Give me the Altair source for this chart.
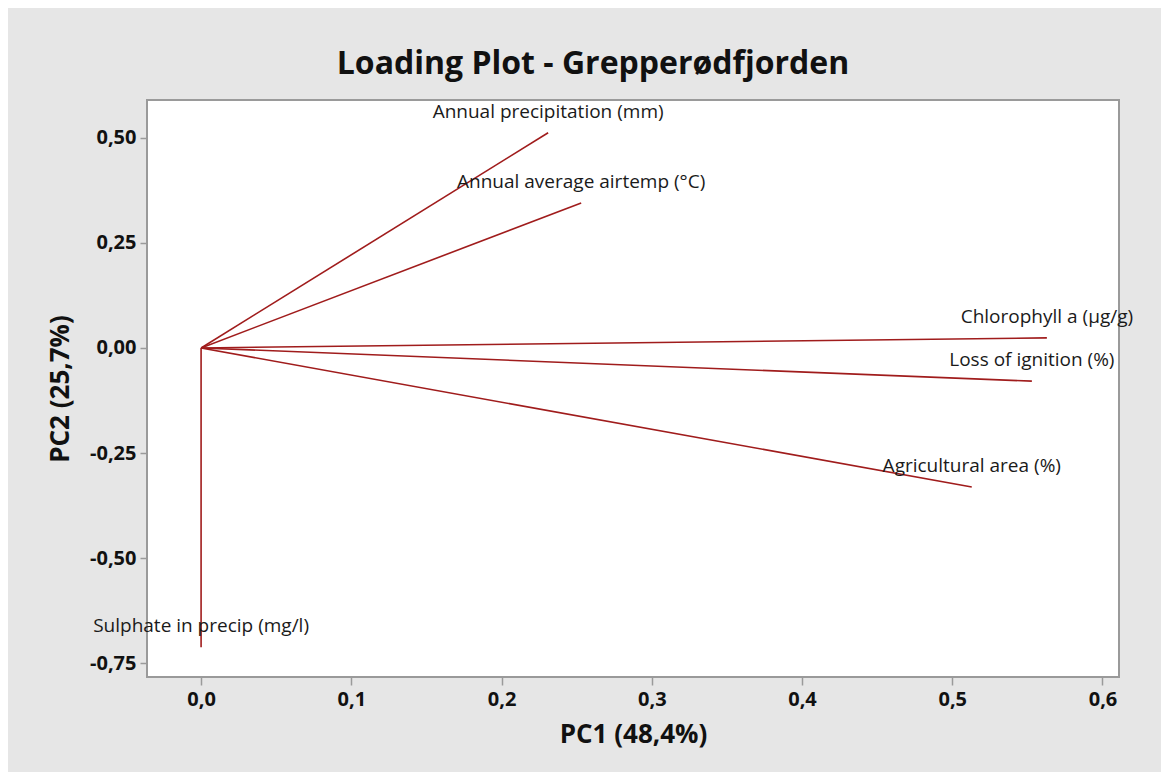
import altair as alt
import pandas as pd

variables = ["Annual precipitation (mm)", "Annual average airtemp (°C)",
             "Chlorophyll a (µg/g)", "Loss of ignition (%)",
             "Agricultural area (%)", "Sulphate in precip (mg/l)"]
pc1 = [0.231, 0.253, 0.563, 0.553, 0.513, 0.0]
pc2 = [0.512, 0.345, 0.024, -0.079, -0.331, -0.712]
origin_x = [0.0] * 6
origin_y = [0.0] * 6

x_ticks = [0.0, 0.1, 0.2, 0.3, 0.4, 0.5, 0.6]
y_ticks = [-0.75, -0.50, -0.25, 0.0, 0.25, 0.50]

df = pd.DataFrame({"var": variables, "pc1": pc1, "pc2": pc2,
                   "x0": origin_x, "y0": origin_y})

FONT = "Open Sans"
RED = "#a01c1c"
GRAY = "#9a9a9a"

xscale = alt.Scale(domain=[-0.036, 0.611], nice=False, zero=False)
yscale = alt.Scale(domain=[-0.783, 0.590], nice=False, zero=False)

xaxis = alt.Axis(title="PC1 (48,4%)", values=x_ticks, grid=False, domain=False,
                 tickColor=GRAY, tickSize=8, tickWidth=1.5,
                 labelExpr="replace(format(datum.value, '.1f'), '.', ',')",
                 labelFont=FONT, labelFontSize=20, labelFontWeight="bold",
                 labelColor="#111111", labelPadding=4,
                 titleFont=FONT, titleFontSize=26, titleFontWeight="bold",
                 titleColor="#111111", titlePadding=12)
yaxis = alt.Axis(title="PC2 (25,7%)", values=y_ticks, grid=False, domain=False,
                 tickColor=GRAY, tickSize=7, tickWidth=1.5,
                 labelExpr="(datum.value < 0 ? '-' : '') + replace(format(abs(datum.value), '.2f'), '.', ',')",
                 labelFont=FONT, labelFontSize=20, labelFontWeight="bold",
                 labelColor="#111111", labelPadding=4,
                 titleFont=FONT, titleFontSize=26, titleFontWeight="bold",
                 titleColor="#111111", titlePadding=16)

base = alt.Chart(df)

lines = base.mark_rule(color=RED, strokeWidth=1.6).encode(
    x=alt.X("x0:Q", scale=xscale, axis=xaxis),
    y=alt.Y("y0:Q", scale=yscale, axis=yaxis),
    x2="pc1:Q",
    y2="pc2:Q",
)

labels = base.mark_text(font=FONT, fontSize=19, color="#1a1a1a",
                        align="center", baseline="middle", dy=-21).encode(
    x=alt.X("pc1:Q", scale=xscale),
    y=alt.Y("pc2:Q", scale=yscale),
    text="var:N",
)

chart = alt.layer(lines, labels).properties(
    width=972,
    height=577,
    title=alt.TitleParams("Loading Plot - Grepperødfjorden", font=FONT,
                          fontSize=32, fontWeight="bold", color="#111111",
                          anchor="middle", dx=-40, offset=19),
    autosize=alt.AutoSizeParams(type="none"),
    padding={"left": 139, "top": 92, "right": 42, "bottom": 95},
).configure(background="#e6e6e6").configure_view(
    fill="white", stroke=GRAY, strokeWidth=2
)

chart.save("out.html", embed_options={"renderer": "svg", "actions": False})
